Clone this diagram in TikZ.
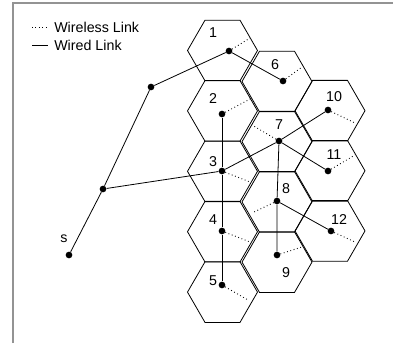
\documentclass[tikz,border=0pt]{standalone}
\usepackage{fontspec}
\setmainfont{Liberation Sans}
\usetikzlibrary{calc}

\begin{document}
\begin{tikzpicture}[x=0.75pt,y=-0.75pt,
    hexcell/.style={line width=0.6pt},
    dot/.style={circle,fill=black,inner sep=0pt,minimum size=5pt},
    wired/.style={line width=0.6pt},
    wireless/.style={line width=0.7pt,dash pattern=on 0.6pt off 2pt},
    lbl/.style={font=\fontsize{10.7}{12}\selectfont,inner sep=0pt}]

    \useasboundingbox (0,0) rectangle (393,343);
    \draw[gray!85,line width=1.3pt] (13,343) -- (13,3) -- (393,3);

    % legend
    \coordinate (lw1) at (32,27);
    \coordinate (lw2) at (48,27);
    \coordinate (ld1) at (32,45);
    \coordinate (ld2) at (48,45);
    \draw[wireless] (lw1) -- (lw2);
    \draw[wired] (ld1) -- (ld2);
    \node[lbl,anchor=west] (wlt) at (54,27) {Wireless Link};
    \node[lbl,anchor=west] (wdt) at (54,45) {Wired Link};

    % cells
    \foreach \y in {50.5,110.9,171.3,231.7,292.1}
        \draw[hexcell] (222.5,\y) ++(0:35) -- ++(120:35) -- ++(180:35) -- ++(240:35) -- ++(300:35) -- ++(0:35) -- cycle;
    \foreach \y in {81.5,141.7,201.9,262.1}
        \draw[hexcell] (277,\y) ++(0:35) -- ++(120:35) -- ++(180:35) -- ++(240:35) -- ++(300:35) -- ++(0:35) -- cycle;
    \foreach \y in {110.7,170.8,230.9}
        \draw[hexcell] (330,\y) ++(0:35) -- ++(120:35) -- ++(180:35) -- ++(240:35) -- ++(300:35) -- ++(0:35) -- cycle;

    % stations
    \node[dot] (s) at (69,255) {};
    \node[dot] (b) at (103,189) {};
    \node[dot] (a) at (151,87) {};
    \node[dot] (n1) at (229,51) {};
    \node[dot] (n2) at (222,114) {};
    \node[dot] (n3) at (222,171) {};
    \node[dot] (n4) at (222,231) {};
    \node[dot] (n5) at (222,285) {};
    \node[dot] (n6) at (283,81) {};
    \node[dot] (n7) at (279,141) {};
    \node[dot] (n8) at (277,201) {};
    \node[dot] (n9) at (277,255) {};
    \node[dot] (n10) at (328,110) {};
    \node[dot] (n11) at (328,171) {};
    \node[dot] (n12) at (331,231) {};

    \node[lbl] (ls) at (64,239) {s};
    \node[lbl] (l1) at (213,33) {1};
    \node[lbl] (l2) at (213,99) {2};
    \node[lbl] (l3) at (213,162) {3};
    \node[lbl] (l4) at (213,220) {4};
    \node[lbl] (l5) at (213,281) {5};
    \node[lbl] (l6) at (275,65) {6};
    \node[lbl] (l7) at (279,125) {7};
    \node[lbl] (l8) at (286,189) {8};
    \node[lbl] (l9) at (286,273) {9};
    \node[lbl] (l10) at (334,97) {10};
    \node[lbl] (l11) at (334,155) {11};
    \node[lbl] (l12) at (339,220) {12};

    % wired links
    \draw[wired] (s) -- (b) -- (a) -- (n1) -- (n6);
    \draw[wired] (b) -- (n3);
    \draw[wired] (n2) -- (n3) -- (n4) -- (n5);
    \draw[wired] (n3) -- (n7) -- (n10);
    \draw[wired] (n7) -- (n11);
    \draw[wired] (n7) -- (n8) -- (n9);
    \draw[wired] (n8) -- (n12);

    % wireless links
    \coordinate (w1) at (250,38);
    \coordinate (w2) at (252,98);
    \coordinate (w3) at (250,182);
    \coordinate (w4) at (250,242);
    \coordinate (w5) at (248,300);
    \coordinate (w6) at (302,67);
    \coordinate (w7) at (252,125);
    \coordinate (w8) at (252,213);
    \coordinate (w9) at (302,247);
    \coordinate (w10) at (355,123);
    \coordinate (w11) at (355,155);
    \coordinate (w12) at (355,242);
    \foreach \i in {1,...,12}
        \draw[wireless] (n\i) -- (w\i);
\end{tikzpicture}
\end{document}
